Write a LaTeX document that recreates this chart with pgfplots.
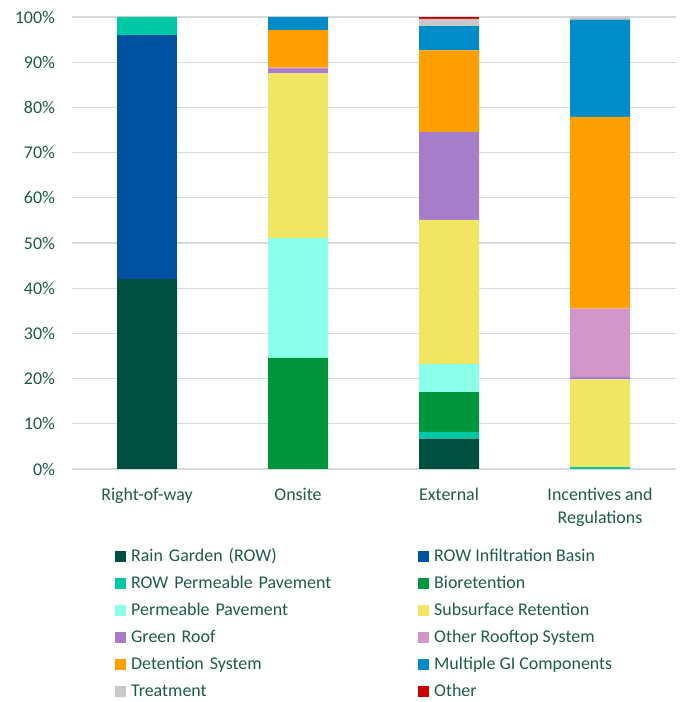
\documentclass[border=0pt]{standalone}
\usepackage{fontspec}
\setmainfont{Carlito}
\usepackage{pgfplots}
\pgfplotsset{compat=1.18}
\definecolor{txt}{HTML}{1E5A4B}
\definecolor{cRG}{HTML}{00503F}
\definecolor{cIB}{HTML}{0052A0}
\definecolor{cRP}{HTML}{00C8A5}
\definecolor{cBio}{HTML}{00963C}
\definecolor{cPP}{HTML}{8CFFEB}
\definecolor{cSub}{HTML}{F0E664}
\definecolor{cGR}{HTML}{A57DC8}
\definecolor{cOR}{HTML}{D296C8}
\definecolor{cDet}{HTML}{FFA000}
\definecolor{cMGI}{HTML}{008CC8}
\definecolor{cTr}{HTML}{C8C8C8}
\definecolor{cOth}{HTML}{C80000}
\begin{document}
\begin{tikzpicture}[x=1bp,y=1bp]
\useasboundingbox (0,0) rectangle (684,702);
\begin{axis}[
  at={(71.5bp,233bp)}, anchor=south west,
  scale only axis, width=604bp, height=452bp,
  ybar stacked, bar width=60bp,
  xmin=-0.5, xmax=3.5, ymin=0, ymax=100,
  xtick={0,1,2,3},
  xticklabels={Right-of-way,Onsite,External,{Incentives and\\Regulations}},
  xticklabel style={align=center, font=\fontsize{18}{23}\selectfont, text=txt, yshift=-16bp},
  ytick={0,10,...,100},
  yticklabels={0\%,10\%,20\%,30\%,40\%,50\%,60\%,70\%,80\%,90\%,100\%},
  yticklabel style={font=\fontsize{18}{20}\selectfont, text=txt, xshift=-13bp},
  ymajorgrids, grid style={draw=black!15, line width=1.2bp},
  axis line style={draw=none}, major tick length=0pt, tick style={draw=none},
  clip=false,
  legend columns=2,
  legend cell align=left,
  legend image code/.code={\fill[#1] (0bp,-5.5bp) rectangle (11bp,5.5bp);},
  legend style={draw=none, fill=none, at={(0.067,-0.1725)}, anchor=north west,
    font=\fontsize{18}{20}\selectfont, text=txt,
    nodes={inner sep=0pt, text height=12bp, text depth=2bp},
    row sep=13bp,
    /tikz/column 2/.style={text width=287bp, align=left, anchor=west},
    /tikz/column 1/.style={column sep=5bp},
    /tikz/column 3/.style={column sep=5bp}},
  every axis plot/.append style={draw=none},
]
\addplot[fill=cRG] coordinates {(0,42) (1,0) (2,6.7) (3,0)};
\addlegendentry{Rain Garden (ROW)}
\addplot[fill=cIB] coordinates {(0,54) (1,0) (2,0) (3,0)};
\addlegendentry{ROW Infiltration Basin}
\addplot[fill=cRP] coordinates {(0,4) (1,0) (2,1.5) (3,0.4)};
\addlegendentry{ROW Permeable Pavement}
\addplot[fill=cBio] coordinates {(0,0) (1,24.6) (2,8.8) (3,0)};
\addlegendentry{Bioretention}
\addplot[fill=cPP] coordinates {(0,0) (1,26.5) (2,6.2) (3,0)};
\addlegendentry{Permeable Pavement}
\addplot[fill=cSub] coordinates {(0,0) (1,36.4) (2,31.9) (3,19.4)};
\addlegendentry{Subsurface Retention}
\addplot[fill=cGR] coordinates {(0,0) (1,1.0) (2,19.4) (3,0.6)};
\addlegendentry{Green Roof}
\addplot[fill=cOR] coordinates {(0,0) (1,0.3) (2,0.1) (3,15.1)};
\addlegendentry{Other Rooftop System}
\addplot[fill=cDet] coordinates {(0,0) (1,8.3) (2,18.0) (3,42.4)};
\addlegendentry{Detention System}
\addplot[fill=cMGI] coordinates {(0,0) (1,2.9) (2,5.4) (3,21.5)};
\addlegendentry{Multiple GI Components}
\addplot[fill=cTr] coordinates {(0,0) (1,0) (2,1.6) (3,0.6)};
\addlegendentry{Treatment}
\addplot[fill=cOth] coordinates {(0,0) (1,0) (2,0.4) (3,0)};
\addlegendentry{Other}
\end{axis}
\end{tikzpicture}
\end{document}
